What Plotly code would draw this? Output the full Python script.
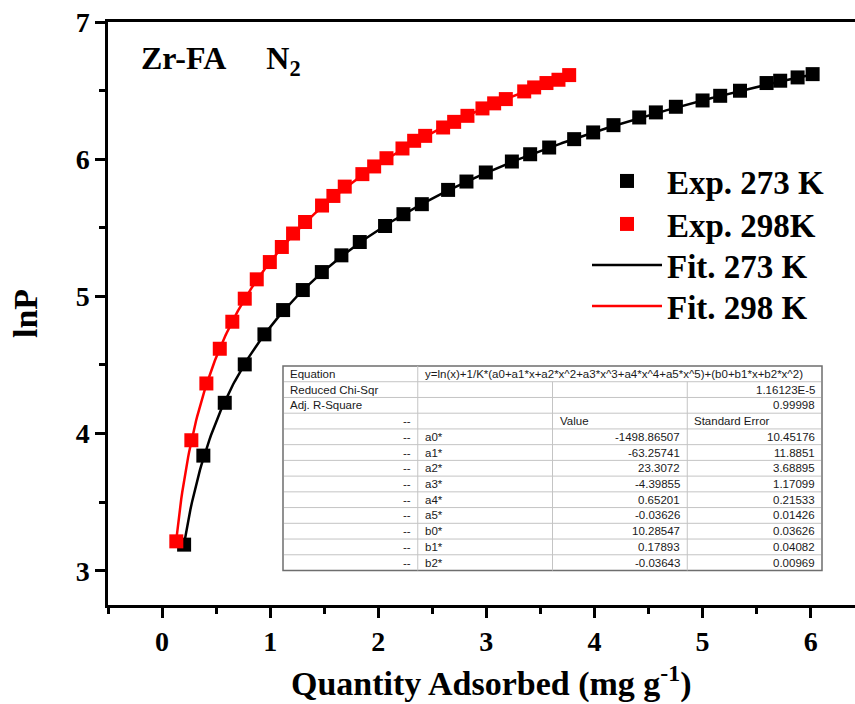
import numpy as np
import plotly.graph_objects as go

# Experimental isotherm points (quantity adsorbed, lnP)
x_273 = [0.204, 0.382, 0.580, 0.765, 0.947, 1.120, 1.302, 1.478, 1.659, 1.829,
         2.063, 2.233, 2.403, 2.646, 2.816, 2.995, 3.236, 3.405, 3.581, 3.812,
         3.988, 4.176, 4.414, 4.568, 4.753, 5.000, 5.163, 5.346, 5.592, 5.718,
         5.879, 6.018]
y_273 = [3.190, 3.839, 4.224, 4.504, 4.723, 4.900, 5.046, 5.177, 5.299, 5.396,
         5.513, 5.599, 5.672, 5.776, 5.837, 5.903, 5.983, 6.036, 6.085, 6.146,
         6.195, 6.248, 6.304, 6.341, 6.382, 6.428, 6.462, 6.499, 6.555, 6.572,
         6.596, 6.620]
x_298 = [0.132, 0.271, 0.410, 0.534, 0.650, 0.765, 0.876, 0.997, 1.108, 1.212,
         1.323, 1.480, 1.585, 1.690, 1.853, 1.962, 2.076, 2.224, 2.332, 2.434,
         2.600, 2.702, 2.825, 2.964, 3.072, 3.180, 3.350, 3.442, 3.556, 3.667,
         3.766]
y_298 = [3.214, 3.951, 4.365, 4.618, 4.815, 4.983, 5.124, 5.250, 5.360, 5.458,
         5.542, 5.662, 5.732, 5.800, 5.891, 5.947, 6.007, 6.078, 6.134, 6.170,
         6.231, 6.272, 6.316, 6.370, 6.407, 6.438, 6.494, 6.523, 6.555, 6.579,
         6.613]

# Virial fit parameters
equation = "y=ln(x)+1/K*(a0+a1*x+a2*x^2+a3*x^3+a4*x^4+a5*x^5)+(b0+b1*x+b2*x^2)"
chi_sqr = "1.16123E-5"
adj_r2 = "0.99998"
param_names = ["a0*", "a1*", "a2*", "a3*", "a4*", "a5*", "b0*", "b1*", "b2*"]
param_values = ["-1498.86507", "-63.25741", "23.3072", "-4.39855", "0.65201",
                "-0.03626", "10.28547", "0.17893", "-0.03643"]
param_errors = ["10.45176", "11.8851", "3.68895", "1.17099", "0.21533",
                "0.01426", "0.03626", "0.04082", "0.00969"]

SERIF = "Liberation Serif"
SANS = "Liberation Sans"

vals = [float(v) for v in param_values]
a_coef, b_coef = vals[:6], vals[6:]


def virial(n, temp):
    a_sum = sum(c * n ** i for i, c in enumerate(a_coef))
    b_sum = sum(c * n ** i for i, c in enumerate(b_coef))
    return np.log(n) + a_sum / temp + b_sum


# plot area in pixels
L, R, T, B = 108, 855, 22, 605


def px(x):
    return (x - L) / (R - L)


def py(y):
    return (B - y) / (B - T)


fig = go.Figure()

for xs, temp, color, name, leg in [(x_273, 273, "black", "Fit. 273 K", "legend3"),
                                   (x_298, 298, "red", "Fit. 298 K", "legend4")]:
    n = np.linspace(min(xs), max(xs), 400)
    fig.add_trace(go.Scatter(x=n, y=virial(n, temp), mode="lines", name=name,
                             line=dict(color=color, width=2.5), legend=leg,
                             showlegend=True))

for xs, ys, color, name, leg in [(x_273, y_273, "black", "Exp. 273 K", "legend"),
                                 (x_298, y_298, "red", "Exp. 298K", "legend2")]:
    fig.add_trace(go.Scatter(x=xs, y=ys, mode="markers", name=name,
                             marker=dict(symbol="square", size=14, color=color,
                                         line=dict(width=0)),
                             legend=leg, showlegend=True))

# Fit-results table
tb_left, tb_right, tb_top, tb_bottom = 283, 822, 366, 570.5
n_rows = 13
row_h = (tb_bottom - tb_top) / n_rows
col_w = (tb_right - tb_left) / 4
cols = [tb_left + i * col_w for i in range(5)]
grid_col = "#c4c4c4"

shapes = [dict(type="rect", xref="paper", yref="paper",
               x0=px(tb_left), x1=px(tb_right), y0=py(tb_bottom), y1=py(tb_top),
               line=dict(color="#6e6e6e", width=1.5), fillcolor="white", layer="above")]
for r in range(1, n_rows):
    yy = tb_top + r * row_h
    shapes.append(dict(type="line", xref="paper", yref="paper",
                       x0=px(tb_left + 1), x1=px(tb_right - 1), y0=py(yy), y1=py(yy),
                       line=dict(color=grid_col, width=1), layer="above"))
shapes.append(dict(type="line", xref="paper", yref="paper",
                   x0=px(cols[1]), x1=px(cols[1]), y0=py(tb_bottom), y1=py(tb_top),
                   line=dict(color=grid_col, width=1), layer="above"))
for c in (cols[2], cols[3]):
    shapes.append(dict(type="line", xref="paper", yref="paper",
                       x0=px(c), x1=px(c), y0=py(tb_bottom), y1=py(tb_top + row_h),
                       line=dict(color=grid_col, width=1), layer="above"))

annotations = []


def cell(text, row, col, align="left"):
    yc = tb_top + (row + 0.5) * row_h
    if align == "left":
        xx, anchor = cols[col] + 5, "left"
    else:
        xx, anchor = cols[col + 1] - 5, "right"
    annotations.append(dict(text=text, x=px(xx), y=py(yc), xref="paper", yref="paper",
                            xanchor=anchor, yanchor="middle", showarrow=False,
                            font=dict(family=SANS, size=11.5, color="#1a1a1a")))


cell("Equation", 0, 0)
cell(equation, 0, 1)
cell("Reduced Chi-Sqr", 1, 0)
cell(chi_sqr, 1, 3, "right")
cell("Adj. R-Square", 2, 0)
cell(adj_r2, 2, 3, "right")
cell("--", 3, 0, "right")
cell("Value", 3, 2)
cell("Standard Error", 3, 3)
for i, (nm, v, e) in enumerate(zip(param_names, param_values, param_errors)):
    r = 4 + i
    cell("--", r, 0, "right")
    cell(nm, r, 1)
    cell(v, r, 2, "right")
    cell(e, r, 3, "right")

annotations.append(dict(text="Zr-FA\u00a0\u00a0\u00a0\u00a0\u00a0N<sub>2</sub>",
                        x=px(139), y=py(60), xref="paper", yref="paper",
                        xanchor="left", yanchor="middle", showarrow=False,
                        font=dict(family=SERIF, size=32, color="black", weight="bold")))

# x-axis title
annotations.append(dict(text="Quantity Adsorbed (mg g<sup>-1</sup>)",
                        x=px(491), y=py(681), xref="paper", yref="paper",
                        xanchor="center", yanchor="middle", showarrow=False,
                        font=dict(family=SERIF, size=34, color="black", weight="bold")))

axis_common = dict(showgrid=False, zeroline=False, showline=True, linecolor="black",
                   linewidth=2.5, ticks="outside", ticklen=10, tickwidth=2.5,
                   tickcolor="black",
                   tickfont=dict(family=SERIF, size=28, color="black", weight="bold"))

leg_font = dict(family=SERIF, size=33, color="black", weight="bold")


def legend_box(center_y):
    return dict(x=px(587), y=py(center_y), xanchor="left", yanchor="middle",
                bgcolor="rgba(0,0,0,0)", itemwidth=70, font=leg_font)


fig.update_layout(
    width=855, height=704,
    margin=dict(l=L, r=855 - R, t=T, b=704 - B),
    plot_bgcolor="white", paper_bgcolor="white",
    showlegend=True,
    xaxis=dict(range=[-0.5, 6.41], tick0=0, dtick=1, mirror=True,
               minor=dict(ticks="outside", tick0=0, dtick=0.5, ticklen=6,
                          tickwidth=2.5, tickcolor="black", showgrid=False),
               **axis_common),
    yaxis=dict(range=[2.75, 7], tick0=3, dtick=1, mirror=False,
               minor=dict(ticks="outside", tick0=3, dtick=0.5, ticklen=6,
                          tickwidth=2.5, tickcolor="black", showgrid=False),
               title=dict(text="lnP", standoff=28,
                          font=dict(family=SERIF, size=34, color="black", weight="bold")),
               **axis_common),
    legend=legend_box(181),
    legend2=legend_box(224),
    legend3=legend_box(265),
    legend4=legend_box(306),
    shapes=shapes,
    annotations=annotations,
)

fig.write_html("out.html")
